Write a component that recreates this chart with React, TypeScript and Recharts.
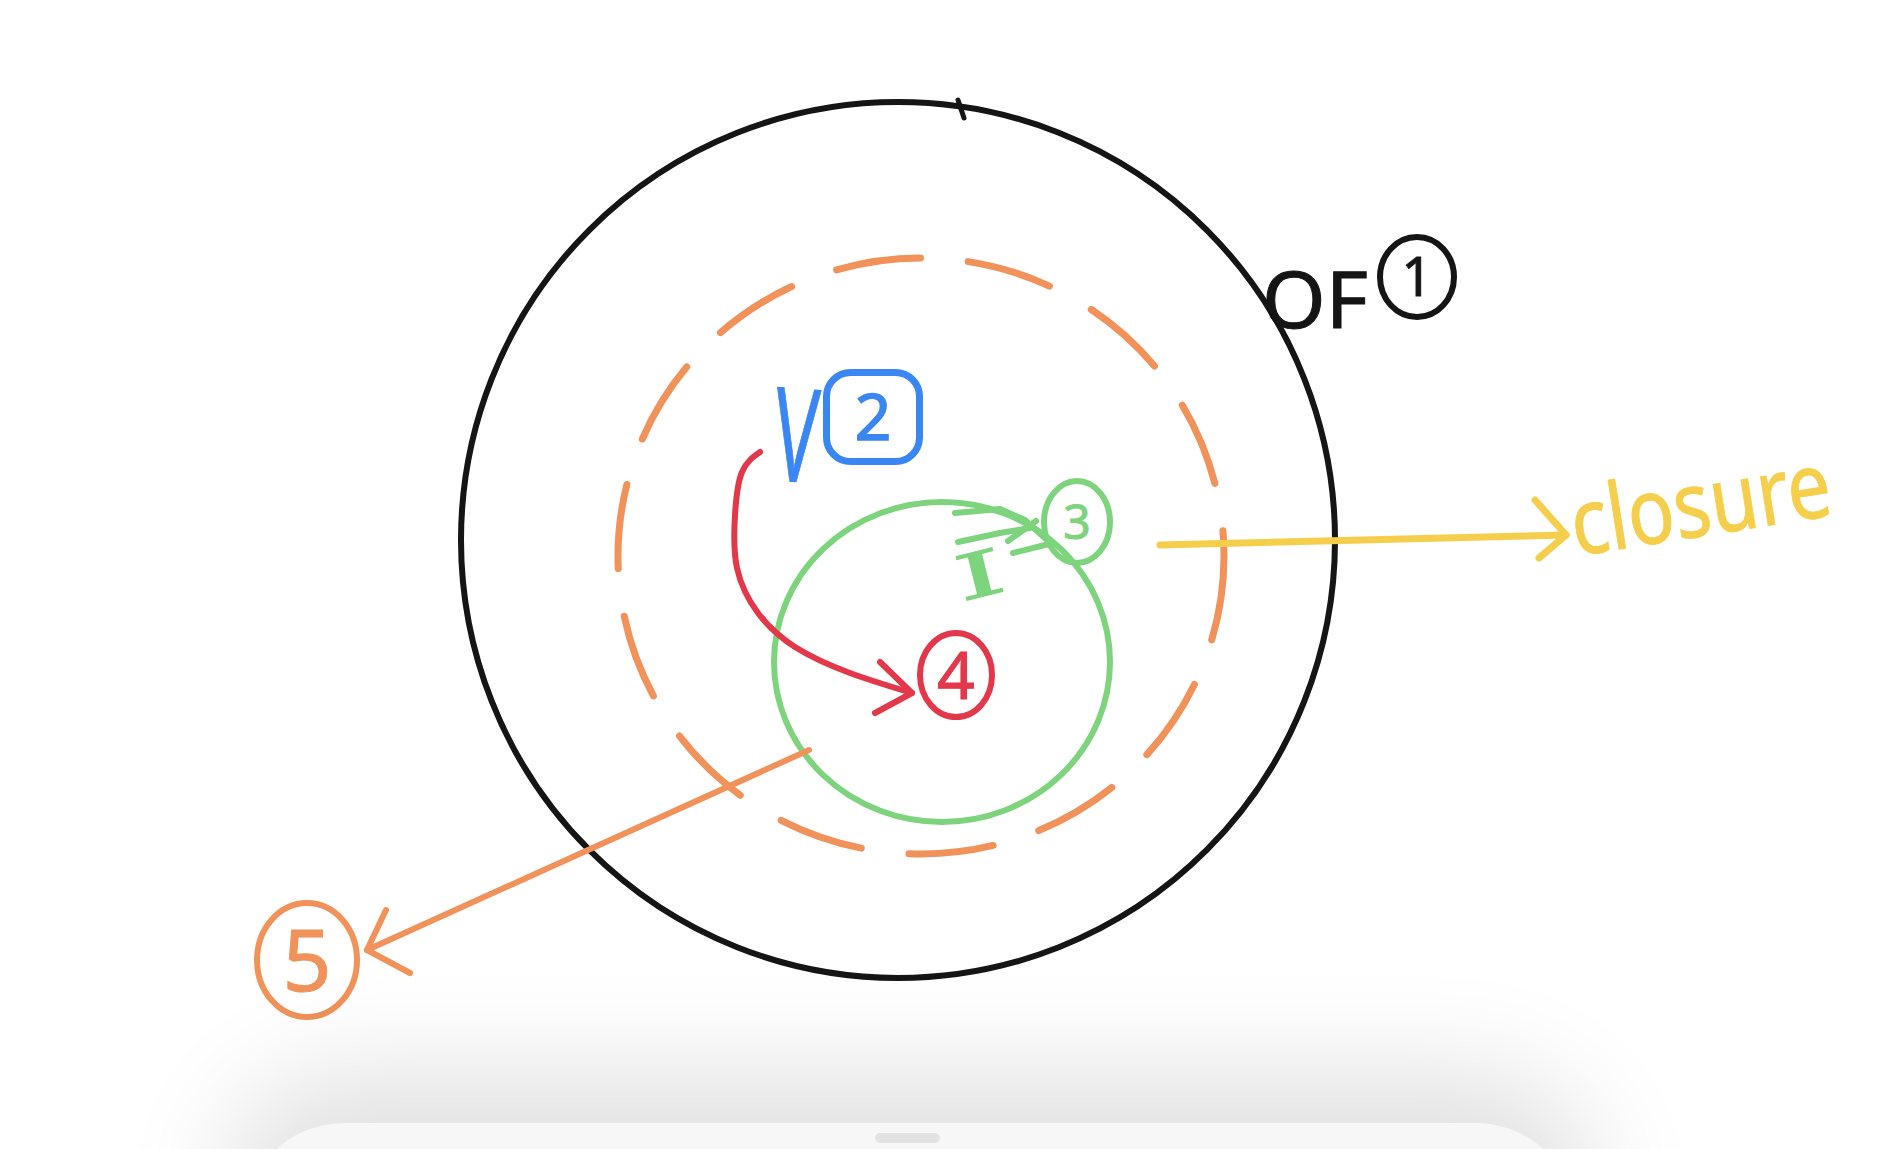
import React from "react";
import { ScatterChart, Scatter, XAxis, YAxis } from "recharts";

const W = 1896;
const H = 1149;

// scopes drawn as rings: centre and radii in canvas units
const outerRing = [{ x: 898, y: 540, rx: 437, ry: 438 }];
const dashedRing = [{ x: 921, y: 556, rx: 303, ry: 298 }];
const innerRing = [{ x: 942, y: 662, rx: 168, ry: 160 }];

// circled step numbers
const badges = [
  { label: "1", x: 1417, y: 277, rx: 37, ry: 40 },
  { label: "3", x: 1077, y: 522, rx: 33, ry: 41 },
  { label: "4", x: 956, y: 675, rx: 36, ry: 42 },
  { label: "5", x: 307, y: 960, rx: 50, ry: 57 },
];
const boxBadge = [{ label: "2", x: 873, y: 417, w: 93, h: 89 }];

// handwritten words (baseline anchor)
const words = [
  { text: "OF", x: 1262, y: 328 },
  { text: "V", x: 771, y: 480 },
  { text: "I", x: 985, y: 596 },
  { text: "closure", x: 1576, y: 556 },
];

// arrows and scribbles
const closureShaft = [
  { x: 1160, y: 545 },
  { x: 1566, y: 535 },
];
const closureHead = [
  { x: 1535, y: 500 },
  { x: 1566, y: 535 },
  { x: 1539, y: 558 },
];
const escapeShaft = [
  { x: 809, y: 750 },
  { x: 367, y: 950 },
];
const escapeHead = [
  { x: 386, y: 910 },
  { x: 367, y: 950 },
  { x: 410, y: 973 },
];
const lookupCurve = [
  { x: 760, y: 452 },
  { x: 742, y: 472 },
  { x: 735, y: 515 },
  { x: 737, y: 568 },
  { x: 758, y: 613 },
  { x: 795, y: 647 },
  { x: 850, y: 673 },
  { x: 912, y: 693 },
];
const lookupHead = [
  { x: 880, y: 662 },
  { x: 912, y: 693 },
  { x: 875, y: 713 },
];
const greenLineA = [
  { x: 955, y: 513 },
  { x: 1000, y: 509 },
  { x: 1025, y: 520 },
  { x: 1047, y: 540 },
];
const greenLineB = [
  { x: 958, y: 542 },
  { x: 1000, y: 533 },
  { x: 1030, y: 528 },
];
const greenCross = [
  { x: 1008, y: 541 },
  { x: 1036, y: 521 },
];
const greenLink = [
  { x: 1013, y: 553 },
  { x: 1053, y: 543 },
];
const topTick = [
  { x: 958, y: 100 },
  { x: 964, y: 118 },
];

const INK = {
  black: "#151515",
  orange: "#f0925a",
  green: "#7dd47d",
  red: "#e2384a",
  blue: "#3a86f2",
  yellow: "#f5cf4c",
};

const badgeStyle: Record<string, { color: string; size: number }> = {
  "1": { color: INK.black, size: 54 },
  "3": { color: INK.green, size: 48 },
  "4": { color: INK.red, size: 66 },
  "5": { color: INK.orange, size: 86 },
};

const wordStyle: Record<string, any> = {
  OF: { color: INK.black, size: 78, span: 106, angle: 0, anchor: "start", family: "Noto Sans" },
  V: { color: INK.blue, size: 130, span: 44, angle: 4, anchor: "start", family: "Noto Sans" },
  I: { color: INK.green, size: 62, span: 50, angle: -14, anchor: "middle", family: "DejaVu Serif" },
  closure: { color: INK.yellow, size: 92, span: 262, angle: -9, anchor: "start", family: "Noto Sans" },
};

const noDot = () => <g />;

const ring = (color: string, width: number, dash?: string) => (p: any) => (
  <ellipse
    cx={p.cx}
    cy={p.cy}
    rx={p.payload.rx}
    ry={p.payload.ry}
    fill="none"
    stroke={color}
    strokeWidth={width}
    strokeDasharray={dash}
    strokeLinecap="round"
  />
);

const badge = (p: any) => {
  const s = badgeStyle[p.payload.label];
  return (
    <g>
      <ellipse cx={p.cx} cy={p.cy} rx={p.payload.rx} ry={p.payload.ry} fill="none" stroke={s.color} strokeWidth={6} />
      <text
        x={p.cx}
        y={p.cy + s.size * 0.36}
        textAnchor="middle"
        fontFamily="Noto Sans"
        fontSize={s.size}
        fill={s.color}
        stroke={s.color}
        strokeWidth={1}
      >
        {p.payload.label}
      </text>
    </g>
  );
};

const box = (p: any) => {
  const { w, h, label } = p.payload;
  return (
    <g>
      <rect
        x={p.cx - w / 2}
        y={p.cy - h / 2}
        width={w}
        height={h}
        rx={24}
        fill="none"
        stroke={INK.blue}
        strokeWidth={7}
      />
      <text
        x={p.cx}
        y={p.cy + 23}
        textAnchor="middle"
        fontFamily="Noto Sans"
        fontSize={64}
        fill={INK.blue}
        stroke={INK.blue}
        strokeWidth={1.5}
      >
        {label}
      </text>
    </g>
  );
};

const word = (p: any) => {
  const s = wordStyle[p.payload.text];
  return (
    <text
      x={p.cx}
      y={p.cy}
      textAnchor={s.anchor}
      fontFamily={s.family}
      fontSize={s.size}
      fill={s.color}
      stroke={s.color}
      strokeWidth={1}
      textLength={s.span}
      lengthAdjust="spacingAndGlyphs"
      transform={`rotate(${s.angle} ${p.cx} ${p.cy})`}
    >
      {p.payload.text}
    </text>
  );
};

const stroke = (key: string, data: any[], color: string, width: number, curve = "linear") => (
  <Scatter
    key={key}
    data={data}
    isAnimationActive={false}
    shape={noDot}
    lineType="joint"
    lineJointType={curve as any}
    line={{ stroke: color, strokeWidth: width, strokeLinecap: "round", strokeLinejoin: "round" }}
  />
);

export default function App() {
  return (
    <div style={{ position: "fixed", left: 0, top: 0, width: W, height: H, overflow: "hidden", background: "#fff" }}>
      <ScatterChart width={W} height={H} margin={{ top: 0, right: 0, bottom: 0, left: 0 }}>
        <XAxis type="number" dataKey="x" domain={[0, W]} allowDataOverflow hide />
        <YAxis type="number" dataKey="y" domain={[0, H]} allowDataOverflow reversed hide />

        <Scatter data={outerRing} isAnimationActive={false} shape={ring(INK.black, 6)} />
        {stroke("tick", topTick, INK.black, 5)}
        <Scatter data={dashedRing} isAnimationActive={false} shape={ring(INK.orange, 7, "85 48")} />
        <Scatter data={innerRing} isAnimationActive={false} shape={ring(INK.green, 6)} />

        {stroke("gA", greenLineA, INK.green, 6)}
        {stroke("gB", greenLineB, INK.green, 6)}
        {stroke("gX", greenCross, INK.green, 6)}
        {stroke("gL", greenLink, INK.green, 6)}

        {stroke("lookup", lookupCurve, INK.red, 6, "natural")}
        {stroke("lookupHead", lookupHead, INK.red, 6)}

        {stroke("closure", closureShaft, INK.yellow, 7)}
        {stroke("closureHead", closureHead, INK.yellow, 7)}

        {stroke("escape", escapeShaft, INK.orange, 6)}
        {stroke("escapeHead", escapeHead, INK.orange, 6)}

        <Scatter data={badges} isAnimationActive={false} shape={badge} />
        <Scatter data={boxBadge} isAnimationActive={false} shape={box} />
        <Scatter data={words} isAnimationActive={false} shape={word} />
      </ScatterChart>

      {/* bottom sheet from the recording */}
      <div
        style={{
          position: "absolute",
          left: 244,
          top: 1123,
          width: 1332,
          height: 200,
          borderRadius: 120,
          background: "#f7f7f7",
          boxShadow: "0 -30px 110px 20px rgba(0,0,0,0.12)",
        }}
      >
        <div
          style={{
            position: "absolute",
            left: 631,
            top: 10,
            width: 65,
            height: 10,
            borderRadius: 5,
            background: "#e3e3e3",
          }}
        />
      </div>
    </div>
  );
}
